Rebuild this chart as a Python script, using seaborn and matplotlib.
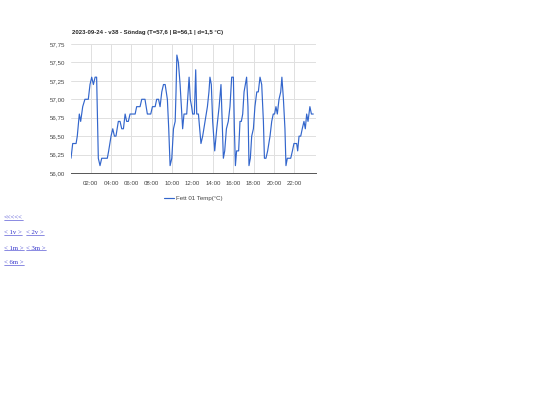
import pandas as pd
import numpy as np
import matplotlib
matplotlib.use("Agg")
import matplotlib.pyplot as plt
import matplotlib.dates as mdates
from matplotlib.lines import Line2D
from matplotlib.ticker import FuncFormatter, MultipleLocator
import seaborn as sns

sns.set_style("white")
plt.rcParams['font.family'] = ['Liberation Sans', 'DejaVu Sans']

# Temperature log for 2023-09-24
times = ["00:04", "00:14", "00:34", "00:41", "00:53", "01:01", "01:13", "01:26", "01:46", "01:56",
         "02:06", "02:16", "02:26", "02:35", "02:45", "02:55", "03:05", "03:38", "03:46", "04:00",
         "04:10", "04:20", "04:29", "04:43", "04:53", "05:03", "05:13", "05:23", "05:32", "05:42",
         "05:52", "06:22", "06:31", "06:51", "07:01", "07:20", "07:34", "07:54", "08:04", "08:20",
         "08:29", "08:40", "08:49", "08:59", "09:09", "09:19", "09:32", "09:40", "09:48", "09:58",
         "10:08", "10:18", "10:23", "10:28", "10:37", "10:47", "10:57", "11:02", "11:10", "11:26",
         "11:40", "11:47", "11:55", "12:01", "12:11", "12:19", "12:25", "12:35", "12:50", "13:00",
         "13:14", "13:28", "13:37", "13:43", "13:51", "13:59", "14:11", "14:23", "14:37", "14:48",
         "15:02", "15:10", "15:20", "15:31", "15:41", "15:51", "16:01", "16:07", "16:13", "16:20",
         "16:32", "16:40", "16:48", "16:56", "17:04", "17:19", "17:27", "17:33", "17:41", "17:49",
         "17:59", "18:08", "18:19", "18:28", "18:38", "18:48", "18:58", "19:04", "19:13", "19:23",
         "19:37", "19:47", "19:56", "20:04", "20:12", "20:20", "20:30", "20:40", "20:47", "20:56",
         "21:05", "21:11", "21:19", "21:39", "21:49", "21:58", "22:14", "22:20", "22:28", "22:38",
         "22:47", "22:57", "23:05", "23:13", "23:21", "23:32", "23:41", "23:52"]
temps = [56.2, 56.4, 56.4, 56.5, 56.8, 56.7, 56.9, 57.0, 57.0, 57.2,
         57.3, 57.2, 57.3, 57.3, 56.2, 56.1, 56.2, 56.2, 56.3, 56.5,
         56.6, 56.5, 56.5, 56.7, 56.7, 56.6, 56.6, 56.8, 56.7, 56.7,
         56.8, 56.8, 56.9, 56.9, 57.0, 57.0, 56.8, 56.8, 56.9, 56.9,
         57.0, 57.0, 56.9, 57.1, 57.2, 57.2, 57.0, 56.6, 56.1, 56.2,
         56.6, 56.7, 57.1, 57.6, 57.5, 57.2, 56.8, 56.6, 56.8, 56.8,
         57.3, 57.0, 56.9, 56.8, 56.8, 57.4, 56.8, 56.8, 56.4, 56.5,
         56.7, 56.9, 57.1, 57.3, 57.2, 56.7, 56.3, 56.6, 56.9, 57.2,
         56.2, 56.3, 56.6, 56.7, 56.9, 57.3, 57.3, 56.6, 56.1, 56.3,
         56.3, 56.7, 56.7, 56.8, 57.1, 57.3, 56.9, 56.1, 56.2, 56.5,
         56.6, 56.9, 57.1, 57.1, 57.3, 57.2, 56.7, 56.2, 56.2, 56.3,
         56.5, 56.7, 56.8, 56.8, 56.9, 56.8, 57.0, 57.1, 57.3, 57.0,
         56.6, 56.1, 56.2, 56.2, 56.3, 56.4, 56.4, 56.3, 56.5, 56.5,
         56.6, 56.7, 56.6, 56.8, 56.7, 56.9, 56.8, 56.8]

title = "2023-09-24 - v38 - Söndag (T=57,6 | B=56,1 | d=1,5 °C)"
series_name = "Fett 01 Temp(°C)"
links = [["<<<<<"], ["< 1v >", "< 2v >"], ["< 1m >", "< 3m >"], ["< 6m >"]]

df = pd.DataFrame({
    "time": pd.to_datetime("2023-09-24 " + pd.Series(times)),
    "temp": temps,
})

fig = plt.figure(figsize=(5.4, 4.05), dpi=100)
ax = fig.add_axes([71 / 540, 1 - 173 / 405, 245 / 540, 129 / 405])

sns.lineplot(data=df, x="time", y="temp", ax=ax, color="#3366cc", linewidth=0.85,
             label=series_name)

day = pd.Timestamp("2023-09-24")
ax.set_xlim(day + pd.Timedelta(minutes=4), day + pd.Timedelta(hours=24, minutes=8))
ax.set_ylim(56.0, 57.75)

ax.xaxis.set_major_locator(mdates.HourLocator(byhour=range(2, 24, 2)))
ax.xaxis.set_minor_locator(mdates.HourLocator(byhour=range(1, 24, 2)))
ax.xaxis.set_major_formatter(mdates.DateFormatter("%H:%M"))
ax.yaxis.set_major_locator(MultipleLocator(0.25))
ax.yaxis.set_major_formatter(FuncFormatter(lambda v, p: f"{v:.2f}".replace(".", ",")))

ax.grid(True, which="major", color="#e0e0e0", linewidth=0.7)
ax.set_axisbelow(True)
for s in ["top", "right", "left"]:
    ax.spines[s].set_visible(False)
ax.spines["bottom"].set_color("#555555")
ax.spines["bottom"].set_linewidth(0.7)

fs = 4.4
ax.tick_params(axis="y", length=0, pad=4, labelsize=fs, labelcolor="#444444")
ax.tick_params(axis="x", which="both", length=2.5, width=0.5, color="#cccccc",
               pad=3, labelsize=fs, labelcolor="#444444")
ax.set_xlabel("")
ax.set_ylabel("")

ax.set_title(title, loc="left", fontsize=4.3, fontweight="bold", pad=7.5, x=0.003)

leg = ax.legend(loc="center", bbox_to_anchor=(0.5, -0.2), frameon=False,
                fontsize=fs, handlelength=1.6, handletextpad=0.4)
for t in leg.get_texts():
    t.set_color("#444444")

# navigation links below the chart
link_color = "#3333cc"
row_y = [218, 233, 248, 263]
col_x = [4, 26]
texts = []
for row, y in zip(links, row_y):
    for j, label in enumerate(row):
        t = fig.text(col_x[j] / 540, 1 - y / 405, label, fontsize=4.9, color=link_color,
                     family="Liberation Serif", va="center", ha="left")
        texts.append(t)

fig.canvas.draw()
renderer = fig.canvas.get_renderer()
for t in texts:
    bb = t.get_window_extent(renderer).transformed(fig.transFigure.inverted())
    yline = bb.y0 + 0.15 * (bb.y1 - bb.y0)
    fig.add_artist(Line2D([bb.x0, bb.x1], [yline, yline], color=link_color,
                          linewidth=0.4, transform=fig.transFigure))

fig.savefig("out.png", dpi=100)
